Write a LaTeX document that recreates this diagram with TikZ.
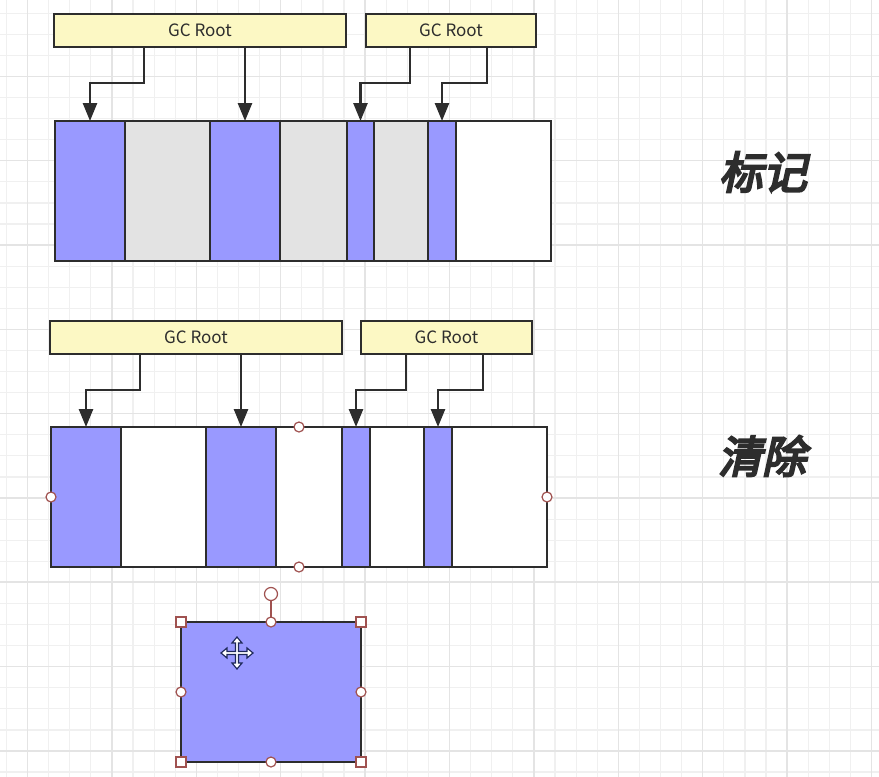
\documentclass[tikz,border=0pt]{standalone}
\usepackage{fontspec}
\setmainfont{Noto Sans CJK SC}
\newfontfamily\cjkb[FakeBold=5,FakeSlant=0.22]{Noto Sans CJK SC}
\usetikzlibrary{arrows.meta,calc}
\definecolor{blu}{RGB}{153,153,255}
\definecolor{gry}{RGB}{227,227,227}
\definecolor{yel}{RGB}{252,248,196}
\definecolor{ink}{RGB}{45,45,45}
\definecolor{minorg}{RGB}{240,240,240}
\definecolor{majorg}{RGB}{228,228,228}
\definecolor{hcol}{RGB}{160,82,80}
\definecolor{navy}{RGB}{30,40,90}
\begin{document}
\begin{tikzpicture}[x=1pt,y=-1pt,
  cell/.style={draw=ink,line width=2.6pt,inner sep=0pt,outer sep=0pt,minimum height=140pt,anchor=north west},
  root/.style={draw=ink,fill=yel,line width=2.4pt,inner sep=0pt,outer sep=0pt,minimum height=33pt,anchor=north west,text=ink,font=\fontsize{17}{17}\selectfont},
  arr/.style={draw=ink,line width=2.6pt,-{Triangle[length=18pt,width=14pt]}},
  hc/.style={circle,draw=hcol,fill=white,line width=1.2pt,inner sep=0pt,minimum size=10pt},
  hs/.style={rectangle,draw=hcol,fill=white,line width=1.2pt,inner sep=0pt,minimum size=10pt},
  big/.style={text=ink,font=\cjkb\fontsize{44}{44}\selectfont}]
\useasboundingbox (0,0) rectangle (879,777);
\fill[white] (0,0) rectangle (879,777);
% grid
\foreach \i in {0,...,42} {\draw[minorg,line width=1.2pt] ({6.4+21.1*\i},0) -- ({6.4+21.1*\i},777);}
\foreach \j in {0,...,37} {\draw[minorg,line width=1.2pt] (0,{13.2+21.08*\j}) -- (879,{13.2+21.08*\j});}
\foreach \i in {0,...,10} {\draw[majorg,line width=1.5pt] ({27.5+84.4*\i},0) -- ({27.5+84.4*\i},777);}
\foreach \j in {1,...,9} {\draw[majorg,line width=1.5pt] (0,{-7.9+84.3*\j}) -- (879,{-7.9+84.3*\j});}

% ---------- top: mark ----------
\node[root,minimum width=292pt] (r1) at (54,14) {GC Root};
\node[root,minimum width=170pt] (r2) at (366,14) {GC Root};
\node[cell,fill=blu,minimum width=70pt] (a1) at (55,121) {};
\node[cell,fill=gry,minimum width=85pt] (a2) at (125,121) {};
\node[cell,fill=blu,minimum width=70pt] (a3) at (210,121) {};
\node[cell,fill=gry,minimum width=67pt] (a4) at (280,121) {};
\node[cell,fill=blu,minimum width=27pt] (a5) at (347,121) {};
\node[cell,fill=gry,minimum width=54pt] (a6) at (374,121) {};
\node[cell,fill=blu,minimum width=28pt] (a7) at (428,121) {};
\node[cell,fill=white,minimum width=95pt] (a8) at (456,121) {};
\draw[arr] ([xshift=90pt]r1.south west) -- ++(0,36) -| (a1.north);
\draw[arr] (r1.south -| a3.north) -- (a3.north);
\draw[arr] ([xshift=44pt]r2.south west) -- ++(0,36) -| (a5.north);
\draw[arr] ([xshift=121pt]r2.south west) -- ++(0,36) -| (a7.north);
\node[big] (lab1) at (763,172) {标记};

% ---------- bottom: sweep ----------
\node[root,minimum width=292pt] (s1) at (50,321) {GC Root};
\node[root,minimum width=171pt] (s2) at (361,321) {GC Root};
\node[cell,fill=blu,minimum width=70pt] (b1) at (51,427) {};
\node[cell,fill=white,minimum width=85pt] (b2) at (121,427) {};
\node[cell,fill=blu,minimum width=70pt] (b3) at (206,427) {};
\node[cell,fill=white,minimum width=66pt] (b4) at (276,427) {};
\node[cell,fill=blu,minimum width=28pt] (b5) at (342,427) {};
\node[cell,fill=white,minimum width=54pt] (b6) at (370,427) {};
\node[cell,fill=blu,minimum width=28pt] (b7) at (424,427) {};
\node[cell,fill=white,minimum width=95pt] (b8) at (452,427) {};
\draw[arr] ([xshift=90pt]s1.south west) -- ++(0,36) -| (b1.north);
\draw[arr] (s1.south -| b3.north) -- (b3.north);
\draw[arr] ([xshift=45pt]s2.south west) -- ++(0,36) -| (b5.north);
\draw[arr] ([xshift=122pt]s2.south west) -- ++(0,36) -| (b7.north);
\node[big] (lab2) at (762,456) {清除};
\node[inner sep=0pt,outer sep=0pt,minimum width=496pt,minimum height=140pt,anchor=north west] (bar) at (51,427) {};
\node[hc] (h1) at (bar.north) {};
\node[hc] (h2) at (bar.south) {};
\node[hc] (h3) at (bar.west) {};
\node[hc] (h4) at (bar.east) {};

% ---------- selected box ----------
\node[draw=ink,fill=blu,line width=2.2pt,inner sep=0pt,outer sep=0pt,minimum width=180pt,minimum height=140pt,anchor=north west] (bx) at (181,622) {};
\node[hc,minimum size=13pt] (rot) at (271,594) {};
\draw[hcol,line width=1.2pt] (rot) -- (bx.north);
\node[hs] at (bx.north west) {};
\node[hs] at (bx.north east) {};
\node[hs] at (bx.south west) {};
\node[hs] at (bx.south east) {};
\node[hc] at (bx.north) {};
\node[hc] at (bx.south) {};
\node[hc] at (bx.west) {};
\node[hc] at (bx.east) {};
% move cursor
\begin{scope}[shift={(237,653)}]
\draw[navy,fill=white,line width=1.2pt,line join=miter]
 (16,0) -- (10,5) -- (10,1.5) -- (1.5,1.5) -- (1.5,10) -- (5,10) -- (0,16) -- (-5,10) -- (-1.5,10) -- (-1.5,1.5)
 -- (-10,1.5) -- (-10,5) -- (-16,0) -- (-10,-5) -- (-10,-1.5) -- (-1.5,-1.5) -- (-1.5,-10) -- (-5,-10) -- (0,-16)
 -- (5,-10) -- (1.5,-10) -- (1.5,-1.5) -- (10,-1.5) -- (10,-5) -- cycle;
\end{scope}
\end{tikzpicture}
\end{document}
